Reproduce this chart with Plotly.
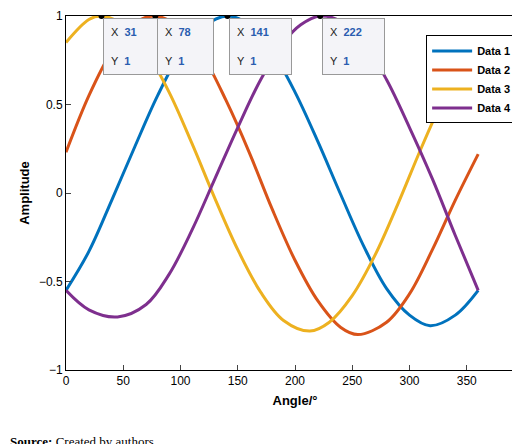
import plotly.graph_objects as go

# Values
x1 = [0, 20, 40, 60, 80, 100, 120, 141, 160, 180, 200, 220, 240, 260, 280, 300, 318, 340, 360]
y1 = [-0.55, -0.33, -0.04, 0.26, 0.55, 0.79, 0.94, 1, 0.95, 0.8, 0.57, 0.29, -0.01, -0.3, -0.54, -0.69, -0.75, -0.69, -0.55]

x2 = [0, 20, 40, 60, 78, 100, 120, 140, 160, 180, 200, 220, 240, 255, 280, 300, 320, 340, 360]
y2 = [0.23, 0.55, 0.8, 0.96, 1, 0.93, 0.77, 0.52, 0.23, -0.09, -0.38, -0.61, -0.76, -0.8, -0.73, -0.57, -0.32, -0.04, 0.22]

x3 = [0, 20, 31, 50, 70, 90, 110, 130, 150, 170, 190, 213, 230, 250, 270, 290, 310, 330, 345, 360]
y3 = [0.85, 0.98, 1, 0.95, 0.8, 0.57, 0.28, -0.03, -0.32, -0.56, -0.72, -0.78, -0.73, -0.58, -0.35, -0.06, 0.25, 0.54, 0.73, 0.87]

x4 = [0, 20, 45, 70, 90, 110, 130, 150, 170, 190, 205, 222, 240, 260, 280, 300, 320, 340, 360]
y4 = [-0.55, -0.66, -0.7, -0.63, -0.46, -0.21, 0.08, 0.37, 0.64, 0.85, 0.95, 1, 0.97, 0.85, 0.64, 0.37, 0.08, -0.24, -0.55]

names = ["Data 1", "Data 2", "Data 3", "Data 4"]
colors = ["#0072BD", "#D95319", "#EDB120", "#7E2F8E"]

tip_x = [31, 78, 141, 222]
tip_y = [1, 1, 1, 1]

fig = go.Figure()
for xs, ys, n, c in zip([x1, x2, x3, x4], [y1, y2, y3, y4], names, colors):
    fig.add_trace(go.Scatter(x=xs, y=ys, name=f"<b>{n}</b>", mode="lines",
                             line=dict(color=c, width=3, shape="spline")))

fig.add_trace(go.Scatter(x=tip_x, y=tip_y, mode="markers", showlegend=False,
                         marker=dict(color="black", size=6)))

for tx, ty in zip(tip_x, tip_y):
    fig.add_annotation(x=tx, y=ty, xref="x", yref="y", ax=2, ay=2,
                       axref="pixel", ayref="pixel", showarrow=True, arrowwidth=0.1,
                       arrowcolor="rgba(0,0,0,0)", xanchor="left", yanchor="top",
                       align="left", bgcolor="#f4f4f8", bordercolor="#999",
                       borderwidth=1, borderpad=7,
                       font=dict(family="Liberation Sans", size=11, color="#222"),
                       text=f"X  <b><span style='color:#2a5db0'>{tx}</span></b>     <br><br>Y  <b><span style='color:#2a5db0'>{ty}</span></b>")

fig.add_annotation(x=0, y=0, xref="paper", yref="paper", xshift=-58, yshift=-62,
                   showarrow=False, xanchor="left", yanchor="top",
                   text="<b>Source:</b> Created by authors",
                   font=dict(family="Liberation Serif", size=13, color="black"))

axis = dict(showgrid=False, zeroline=False, showline=True, linecolor="black",
            linewidth=1, mirror=True, ticks="inside", ticklen=5, automargin=False,
            tickfont=dict(family="Liberation Sans", size=12, color="black"))

fig.update_xaxes(range=[0, 400], dtick=50, title=dict(text="<b>Angle/°</b>", standoff=8,
                 font=dict(family="Liberation Sans", size=13, color="black")), **axis)
fig.update_yaxes(range=[-1, 1], tickvals=[-1, -0.5, 0, 0.5, 1],
                 ticktext=["−1", "−0.5", "0", "0.5", "1"],
                 title=dict(text="<b>Amplitude</b>", standoff=6,
                 font=dict(family="Liberation Sans", size=13, color="black")), **axis)

fig.update_layout(width=520, height=444, margin=dict(l=58, r=4, t=8, b=82),
                  plot_bgcolor="white", paper_bgcolor="white",
                  legend=dict(x=0.985, y=0.945, xanchor="right", yanchor="top",
                              bordercolor="black", borderwidth=1, bgcolor="white",
                              font=dict(family="Liberation Sans", size=11, color="black"),
                              itemwidth=40, tracegroupgap=0))

fig.write_html("out.html")
